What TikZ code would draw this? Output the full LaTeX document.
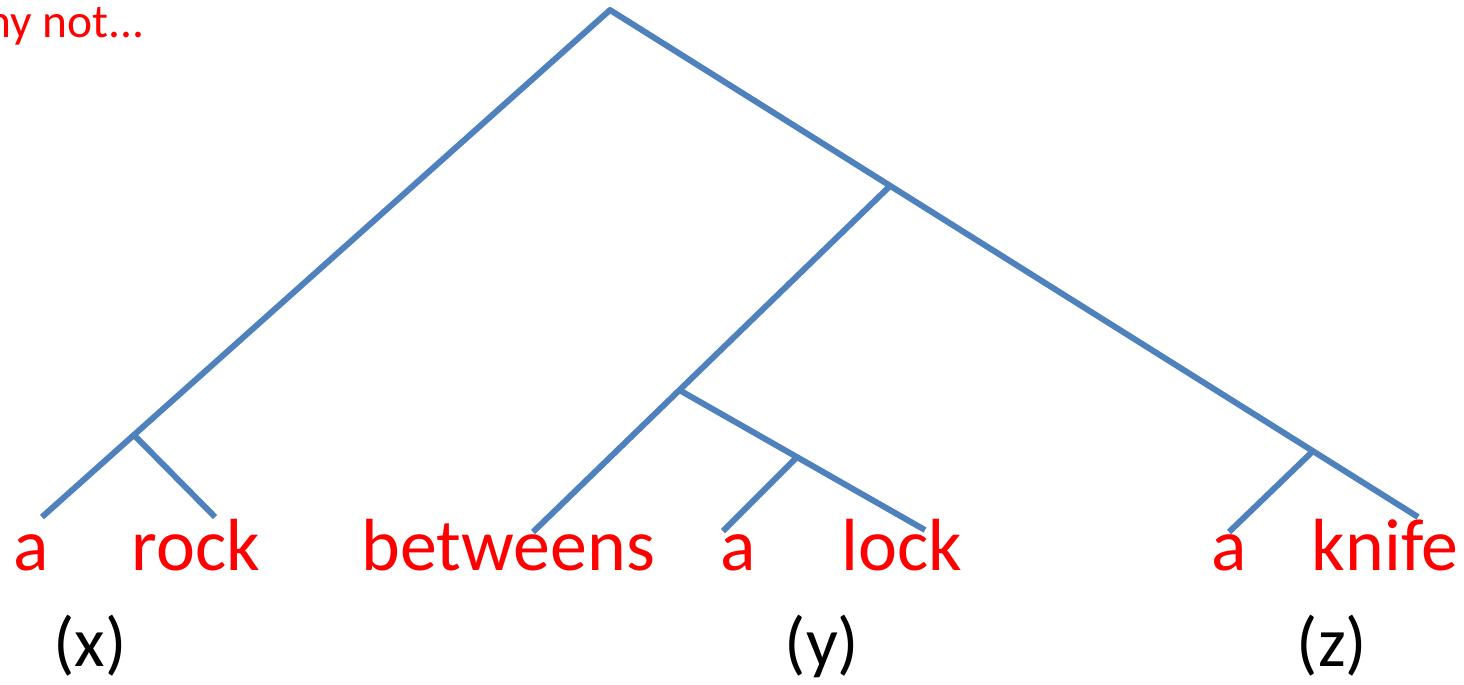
\documentclass[tikz,border=0pt]{standalone}
\usepackage{fontspec}
\setmainfont{Carlito}
\definecolor{treeblue}{RGB}{79,129,189}
\begin{document}
\begin{tikzpicture}[x=0.01cm, y=-0.01cm, line join=round,
		branch/.style={draw=treeblue, line width=1.7pt},
		word/.style={text=red, font=\fontsize{21}{25}\selectfont, inner sep=0pt, anchor=base west},
		var/.style={font=\fontsize{20}{24}\selectfont, inner sep=0pt, anchor=base}]
			\useasboundingbox (0,0) rectangle (1464,684);
			% branch points of the tree
			\coordinate (top) at (610,10);
			\coordinate (jx) at (135,436);
			\coordinate (jyz) at (890,186);
			\coordinate (jy) at (681,391);
			\coordinate (jya) at (797,457);
			\coordinate (jz) at (1312,452);
			% leaf ends
			\coordinate (ea) at (42,517);
			\coordinate (erock) at (215,517);
			\coordinate (ebetw) at (533,532);
			\coordinate (ea2) at (723,531);
			\coordinate (elock) at (925,530);
			\coordinate (ea3) at (1229,532);
			\coordinate (eknife) at (1418,517);
			\draw[branch] (ea) -- (top) -- (eknife);
			\draw[branch] (jx) -- (erock);
			\draw[branch] (jyz) -- (ebetw);
			\draw[branch] (jy) -- (elock);
			\draw[branch] (jya) -- (ea2);
			\draw[branch] (jz) -- (ea3);
			% words
			\foreach \n/\x/\w in {wa/13/a, wrock/131/rock, wbetw/361/betweens, wa2/720/a, wlock/841/lock, wa3/1211/a, wknife/1311/knife}
			\node[word] (\n) at (\x,570) {\w};
			\foreach \n/\x/\v in {vx/90/x, vy/822/y, vz/1332/z}
			\node[var] (\n) at (\x,666) {(\v)};
			\node[text=red, font=\fontsize{13.5}{16}\selectfont, inner sep=0pt, anchor=base east] (why) at (145,37) {why not...};
		\end{tikzpicture}
\end{document}
